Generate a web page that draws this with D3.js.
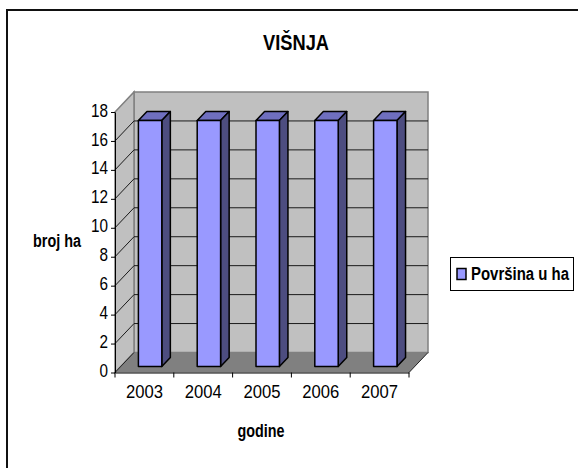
<!DOCTYPE html>
<html>
<head>
<meta charset="utf-8">
<script src="https://cdn.jsdelivr.net/npm/d3@7"></script>
<style>
  html, body { margin: 0; background: #fff; }
  text { font-family: "Liberation Sans", Arial, sans-serif; fill: #000; }
</style>
</head>
<body>
<svg id="chart" width="578" height="468" style="display:block"></svg>
<script>
const years = ["2003", "2004", "2005", "2006", "2007"];
const areaHa = [17, 17, 17, 17, 17];
const yTicks = [0, 2, 4, 6, 8, 10, 12, 14, 16, 18];
const seriesName = "Površina u ha";

const svg = d3.select("#chart");

// front plane of the fake 3d box
const x = d3.scaleBand().domain(years).range([115, 409]);
const y = d3.scaleLinear().domain([0, 18]).range([372.5, 112]);
// depth: 0 is the front plane, 1 the back wall
const dx = d3.scaleLinear().domain([0, 1]).range([0, 19]);
const dy = d3.scaleLinear().domain([0, 1]).range([0, -20]);

const barWidth = 23.4;
const barFront = 0.3, barBack = 0.75;

const pt = (px, v, d) => [px + dx(d), y(v) + dy(d)];
const poly = pts => "M" + pts.map(p => p.join(",")).join("L") + "Z";

// outer frame, only top and left end up in the window
svg.append("path")
  .attr("d", "M7,468V10H578")
  .attr("fill", "none")
  .attr("stroke", "#111")
  .attr("stroke-width", 2);

const [x0, x1] = x.range();

// walls and floor
svg.append("path")
  .attr("d", poly([pt(x0, 0, 1), pt(x0, 18, 1), pt(x1, 18, 1), pt(x1, 0, 1)]))
  .attr("fill", "#c0c0c0").attr("stroke", "#808080").attr("stroke-width", 1.5);
svg.append("path")
  .attr("d", poly([pt(x0, 0, 0), pt(x0, 18, 0), pt(x0, 18, 1), pt(x0, 0, 1)]))
  .attr("fill", "#c0c0c0").attr("stroke", "#808080").attr("stroke-width", 1.5);

// gridlines over side wall and back wall
svg.append("g").selectAll("path")
  .data(yTicks.filter(v => v > 0 && v < 18))
  .join("path")
    .attr("d", v => d3.line()([pt(x0, v, 0), pt(x0, v, 1), pt(x1, v, 1)]))
    .attr("fill", "none")
    .attr("stroke", "#1a1a1a")
    .attr("stroke-width", 1);

svg.append("path")
  .attr("d", poly([pt(x0, 0, 0), pt(x0, 0, 1), pt(x1, 0, 1), pt(x1, 0, 0)]))
  .attr("fill", "#808080");
svg.append("path")
  .attr("d", d3.line()([pt(x1, 0, 0), pt(x1, 0, 1)]))
  .attr("stroke", "#222").attr("stroke-width", 1);
svg.append("path")
  .attr("d", d3.line()([pt(x0, 0, 0), pt(x0, 0, 1)]))
  .attr("stroke", "#222").attr("stroke-width", 1);

// bars
const bars = svg.append("g").selectAll("g")
  .data(years.map((year, i) => ({ year, value: areaHa[i] })))
  .join("g")
    .attr("stroke", "#000")
    .attr("stroke-width", 1.5)
    .attr("stroke-linejoin", "round");

const left = d => x(d.year) + (x.bandwidth() - barWidth) / 2;

bars.append("path")
  .attr("fill", "#6f6fbf")
  .attr("d", d => poly([
    pt(left(d), d.value, barFront), pt(left(d), d.value, barBack),
    pt(left(d) + barWidth, d.value, barBack), pt(left(d) + barWidth, d.value, barFront)]));
bars.append("path")
  .attr("fill", "#4d4d80")
  .attr("d", d => poly([
    pt(left(d) + barWidth, 0, barFront), pt(left(d) + barWidth, d.value, barFront),
    pt(left(d) + barWidth, d.value, barBack), pt(left(d) + barWidth, 0, barBack)]));
bars.append("path")
  .attr("fill", "#9999ff")
  .attr("d", d => poly([
    pt(left(d), 0, barFront), pt(left(d), d.value, barFront),
    pt(left(d) + barWidth, d.value, barFront), pt(left(d) + barWidth, 0, barFront)]));

// axes
const yAxis = svg.append("g")
  .attr("transform", `translate(${x0},0)`)
  .call(d3.axisLeft(y).tickValues(yTicks).tickSize(4).tickPadding(3).tickSizeOuter(0));
const xAxis = svg.append("g")
  .attr("transform", `translate(0,${y(0)})`)
  .call(d3.axisBottom(x).tickSize(0).tickPadding(12).tickSizeOuter(0));

xAxis.selectAll(".edge")
  .data([x0].concat(years.map(c => x(c) + x.bandwidth())))
  .join("line")
    .attr("class", "edge")
    .attr("x1", d => d).attr("x2", d => d)
    .attr("y1", 0).attr("y2", 5)
    .attr("stroke", "#000");

yAxis.selectAll("path, line").attr("stroke", "#000").attr("stroke-width", 1);
xAxis.select("path").attr("stroke", "#000").attr("stroke-width", 1);

// reference type is squeezed sideways, textLength keeps the measured widths
yAxis.selectAll("text")
  .attr("font-size", 18.5)
  .attr("dy", "0.22em")
  .attr("textLength", v => v >= 10 ? 17 : 8.5)
  .attr("lengthAdjust", "spacingAndGlyphs");
xAxis.selectAll(".tick text")
  .attr("font-size", 18.5)
  .attr("textLength", 37)
  .attr("lengthAdjust", "spacingAndGlyphs");

function label(txt, cx, cy, size, len) {
  return svg.append("text")
    .attr("x", cx).attr("y", cy)
    .attr("text-anchor", "middle")
    .attr("dominant-baseline", "central")
    .attr("font-size", size)
    .attr("font-weight", "bold")
    .attr("textLength", len)
    .attr("lengthAdjust", "spacingAndGlyphs")
    .text(txt);
}

label("VIŠNJA", 296, 42, 22, 66);
label("broj ha", 57, 241, 18, 48);
label("godine", 261, 431, 18, 47);

// legend
svg.append("rect")
  .attr("x", 450.5).attr("y", 257.5).attr("width", 123).attr("height", 33)
  .attr("fill", "#fff").attr("stroke", "#000").attr("stroke-width", 1);
svg.append("rect")
  .attr("x", 457).attr("y", 268.5).attr("width", 9).attr("height", 11)
  .attr("fill", "#9999ff").attr("stroke", "#000").attr("stroke-width", 1.5);
svg.append("text")
  .attr("x", 471).attr("y", 274)
  .attr("dominant-baseline", "central")
  .attr("font-size", 17.5)
  .attr("font-weight", "bold")
  .attr("textLength", 98)
  .attr("lengthAdjust", "spacingAndGlyphs")
  .text(seriesName);
</script>
</body>
</html>
